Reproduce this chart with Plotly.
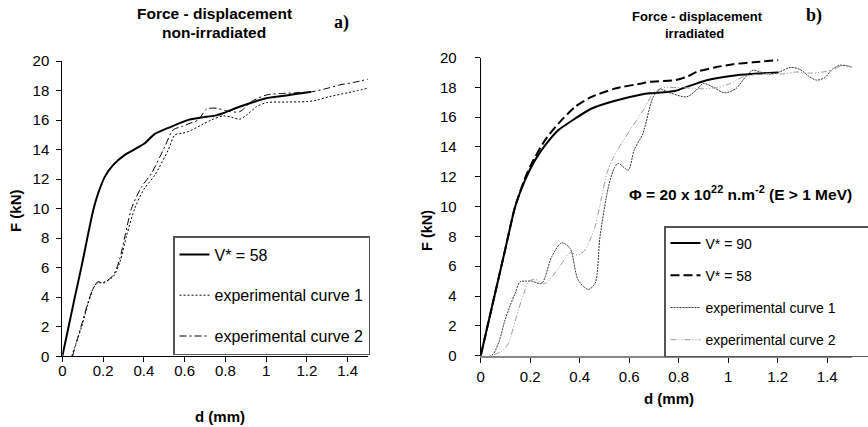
import plotly.graph_objects as go

# ---------------- Panel a) non-irradiated ----------------
a_v58_d = [0, 0.03, 0.062, 0.09, 0.111, 0.13, 0.152, 0.176, 0.209, 0.25, 0.307, 0.373, 0.405, 0.454,
           0.536, 0.618, 0.683, 0.749, 0.789, 0.85, 0.92, 1.0, 1.06, 1.116, 1.206, 1.22]
a_v58_F = [0, 1.95, 4.04, 5.8, 7.2, 8.5, 9.91, 11.04, 12.17, 12.96, 13.64, 14.16, 14.43, 15.06,
           15.56, 16.01, 16.17, 16.3, 16.46, 16.8, 17.14, 17.48, 17.6, 17.7, 17.89, 17.9]

a_exp1_d = [0.046, 0.07, 0.095, 0.127, 0.152, 0.172, 0.2, 0.25, 0.283, 0.316, 0.356, 0.4, 0.454, 0.52,
            0.552, 0.585, 0.618, 0.683, 0.732, 0.789, 0.83, 0.871, 0.91, 0.953, 1.002, 1.1, 1.198,
            1.25, 1.312, 1.4, 1.5]
a_exp1_F = [0, 1.0, 2.0, 3.6, 4.6, 4.95, 5.0, 5.4, 6.4, 8.2, 10.03, 11.3, 12.28, 13.98,
            14.99, 15.1, 15.22, 15.67, 16.01, 16.28, 16.2, 16.06, 16.4, 16.91, 17.18, 17.22, 17.25,
            17.35, 17.59, 17.85, 18.16]

a_exp2_d = [0.05, 0.075, 0.1, 0.13, 0.155, 0.175, 0.2, 0.25, 0.28, 0.31, 0.34, 0.39, 0.438, 0.503,
            0.544, 0.585, 0.63, 0.667, 0.708, 0.757, 0.81, 0.871, 0.928, 1.002, 1.08, 1.165, 1.23,
            1.3, 1.361, 1.43, 1.5]
a_exp2_F = [0, 1.2, 2.4, 3.8, 4.7, 5.05, 4.95, 5.5, 6.5, 8.3, 10.03, 11.5, 12.4, 14.2,
            15.33, 15.56, 15.8, 16.01, 16.74, 16.8, 16.6, 16.57, 17.25, 17.7, 17.8, 17.86, 17.93,
            18.15, 18.38, 18.55, 18.77]

# ---------------- Panel b) irradiated ----------------
b_v90_d = [0, 0.05, 0.1, 0.139, 0.179, 0.219, 0.26, 0.314, 0.381, 0.448, 0.543, 0.65, 0.684, 0.785,
           0.832, 0.913, 1.034, 1.12, 1.202]
b_v90_F = [0, 3.6, 7.2, 9.99, 11.78, 13.1, 14.1, 15.13, 15.9, 16.58, 17.1, 17.52, 17.6, 17.76,
           18.03, 18.48, 18.81, 18.93, 18.99]

b_v58_d = [0, 0.05, 0.1, 0.139, 0.179, 0.206, 0.26, 0.314, 0.381, 0.448, 0.543, 0.65, 0.684, 0.785,
           0.832, 0.873, 0.95, 1.02, 1.1, 1.202]
b_v58_F = [0, 3.6, 7.2, 10.0, 11.9, 12.9, 14.46, 15.57, 16.69, 17.36, 17.92, 18.26, 18.37, 18.48,
           18.7, 19.04, 19.35, 19.55, 19.68, 19.82]

b_exp1_d = [0, 0.025, 0.05, 0.075, 0.098, 0.12, 0.139, 0.159, 0.18, 0.206, 0.246, 0.287, 0.327, 0.361,
            0.394, 0.435, 0.462, 0.482, 0.516, 0.54, 0.556, 0.596, 0.62, 0.655, 0.697, 0.725, 0.77,
            0.832, 0.87, 0.9, 0.94, 0.985, 1.03, 1.07, 1.1, 1.135, 1.17, 1.21, 1.25, 1.29, 1.325,
            1.357, 1.39, 1.42, 1.45, 1.475, 1.5]
b_exp1_F = [0, -0.1, 0.1, 1.0, 2.39, 3.4, 4.18, 4.96, 5.0, 5.0, 4.85, 6.64, 7.57, 7.2,
            5.07, 4.45, 4.85, 7.98, 11.33, 12.6, 12.9, 12.45, 13.8, 14.9, 17.36, 17.86, 17.6,
            17.36, 17.8, 18.26, 18.0, 17.63, 17.9, 18.7, 19.15, 19.0, 18.88, 19.05, 19.33, 19.2, 18.75,
            18.48, 18.65, 19.2, 19.48, 19.45, 19.37]

b_exp2_d = [0, 0.03, 0.058, 0.085, 0.112, 0.132, 0.152, 0.175, 0.192, 0.219, 0.26, 0.314, 0.361, 0.394,
            0.421, 0.44, 0.462, 0.489, 0.509, 0.536, 0.603, 0.657, 0.697, 0.73, 0.79, 0.85, 0.9,
            0.953, 1.0, 1.06, 1.155, 1.22, 1.277, 1.33, 1.384, 1.43, 1.465, 1.5]
b_exp2_F = [0, -0.1, 0.1, 0.3, 0.83, 1.9, 3.06, 4.2, 4.96, 5.12, 4.85, 5.86, 6.9, 6.75,
            7.08, 7.7, 8.65, 10.66, 12.2, 13.3, 15.13, 16.47, 17.6, 17.95, 17.99, 17.95, 17.9,
            17.99, 18.2, 18.7, 18.93, 18.9, 19.03, 18.95, 19.03, 19.25, 19.48, 19.33]

x_tickvals = [0, 0.2, 0.4, 0.6, 0.8, 1.0, 1.2, 1.4]
x_ticktext = ["0", "0.2", "0.4", "0.6", "0.8", "1", "1.2", "1.4"]

FONT = "Liberation Sans, Arial, sans-serif"
SERIF = "Liberation Serif, Times New Roman, serif"
W, H = 868, 427

fig = go.Figure()

def add(x, y, name, xa, ya, legend, color, width, dash, group, smooth=0.8):
    fig.add_trace(go.Scatter(
        x=x, y=y, name=name, mode="lines", xaxis=xa, yaxis=ya, legend=legend,
        legendgroup=group,
        line=dict(color=color, width=width, dash=dash, shape="spline", smoothing=smooth),
        hoverinfo="skip"))

add(a_v58_d, a_v58_F, "V* = 58", "x", "y", "legend", "black", 2, "solid", "a1", 0.6)
add(a_exp1_d, a_exp1_F, "experimental curve 1", "x", "y", "legend", "black", 1, "2px,2px", "a2")
add(a_exp2_d, a_exp2_F, "experimental curve 2", "x", "y", "legend", "black", 1, "7px,3px,2px,3px", "a3")

pad = "\u00a0" * 8
add(b_v90_d, b_v90_F, "V* = 90" + pad, "x2", "y2", "legend2", "black", 2, "solid", "b1", 0.6)
add(b_v58_d, b_v58_F, "V* = 58" + pad, "x2", "y2", "legend2", "black", 2, "9px,4px", "b2", 0.6)
add(b_exp1_d, b_exp1_F, "experimental curve 1" + pad, "x2", "y2", "legend2", "#333333", 1, "2px,1px", "b3")
add(b_exp2_d, b_exp2_F, "experimental curve 2" + pad, "x2", "y2", "legend2", "#9a9a9a", 1,
    "6px,2px,1px,2px,1px,2px", "b4")

def px_x(p):
    return p / W

def px_y(p):
    return 1 - p / H

axis_common = dict(showgrid=False, zeroline=False, showline=True, linecolor="black", linewidth=1,
                   ticks="outside", ticklen=5, tickwidth=1, tickcolor="black", automargin=False,
                   tickfont=dict(family=FONT, size=15, color="black"), fixedrange=True)

fig.update_layout(
    width=W, height=H, margin=dict(l=0, r=0, t=0, b=0, autoexpand=False),
    paper_bgcolor="white", plot_bgcolor="white",
    font=dict(family=FONT, color="black"),
    xaxis=dict(domain=[px_x(62.3), px_x(368)], range=[0, 1.5], anchor="y",
               tickvals=x_tickvals, ticktext=x_ticktext, ticklabelstandoff=-4, **axis_common),
    yaxis=dict(domain=[px_y(356.3), px_y(61)], range=[0, 20], anchor="x", dtick=2,
               ticklabelstandoff=4, **axis_common),
    xaxis2=dict(domain=[px_x(480.7), px_x(852)], range=[0, 1.5], anchor="y2",
                tickvals=x_tickvals, ticktext=x_ticktext, ticklabelstandoff=1,
                **{**axis_common, "linecolor": "#888888", "linewidth": 2}),
    yaxis2=dict(domain=[px_y(355.7), px_y(57.5)], range=[0, 20], anchor="x2", dtick=2,
                ticklabelstandoff=15, **axis_common),
    legend=dict(x=px_x(173), y=px_y(236), xanchor="left", yanchor="top",
                bgcolor="white", bordercolor="#555555", borderwidth=1.5,
                font=dict(family=FONT, size=16, color="black"), tracegroupgap=17,
                itemwidth=30),
    legend2=dict(x=px_x(664), y=px_y(226), xanchor="left", yanchor="top",
                 bgcolor="white", bordercolor="#555555", borderwidth=1.5,
                 font=dict(family=FONT, size=14, color="black"), tracegroupgap=11,
                 itemwidth=30),
    showlegend=True,
)

def ann(text, x, y, size, family=FONT, angle=0, bold=True):
    fig.add_annotation(text=("<b>%s</b>" % text) if bold else text, x=px_x(x), y=px_y(y),
                       xref="paper", yref="paper", showarrow=False, textangle=angle,
                       xanchor="center", yanchor="middle",
                       font=dict(family=family, size=size, color="black"))

# titles
ann("Force - displacement", 214, 13, 15.5)
ann("non-irradiated", 214, 33, 15.5)
ann("a)", 341, 23, 18, family=SERIF)
ann("Force - displacement", 697, 16, 13)
ann("irradiated", 694, 34, 13)
ann("b)", 814, 15, 18, family=SERIF)

# axis titles
ann("F (kN)", 15, 211, 15, angle=-90)
ann("d (mm)", 220, 416, 15)
ann("F (kN)", 427, 231, 14.5, angle=-90)
ann("d (mm)", 669, 398, 15)

# fluence annotation
fig.add_annotation(text="<b>\u03a6 = 20 x 10<sup>22</sup> n.m<sup>-2</sup> (E > 1 MeV)</b>",
                   x=px_x(627), y=px_y(193), xref="paper", yref="paper", showarrow=False,
                   xanchor="left", yanchor="middle",
                   font=dict(family=FONT, size=15.5, color="black"))

fig.write_html("out.html", config={"displayModeBar": False},
               post_script="document.body.style.margin='0px';")
